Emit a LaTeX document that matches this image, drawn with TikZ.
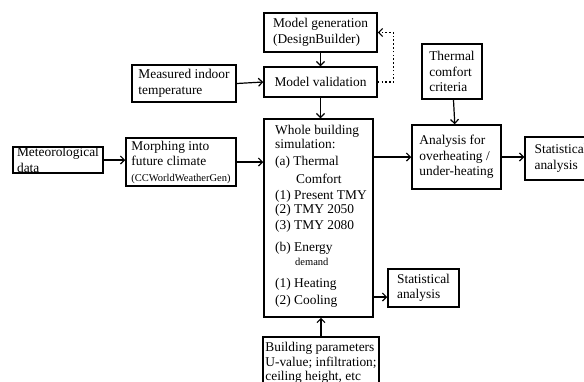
\documentclass[tikz,border=0pt]{standalone}
\usepackage{fontspec}
\setmainfont{Liberation Serif}
\usetikzlibrary{arrows.meta,positioning}
\newcommand{\smalltxt}[1]{{\fontsize{10.5}{12}\selectfont #1}}

\begin{document}
\begin{tikzpicture}[x=1pt,y=-1pt,
  >={Straight Barb[length=1.4mm,width=2.8mm]},
  box/.style={rectangle,draw,line width=1.5pt,align=left,inner sep=0pt,
              font=\fontsize{13.4}{15.5}\selectfont},
  link/.style={->,line width=1.2pt},
  font=\fontsize{13.4}{15}\selectfont]
\useasboundingbox (0,0) rectangle (584,381);

% model set-up
\node[box,minimum width=113pt,minimum height=39pt] (gen) at (320.5,32.5)
  {Model generation\\(DesignBuilder)};
\node[box,minimum width=113pt,minimum height=30pt] (val) at (320.5,82)
  {Model validation};
\node[box,minimum width=104pt,minimum height=37pt] (meas) at (184,83.5)
  {Measured indoor\\temperature};

% weather input
\node[box,minimum width=90pt,minimum height=26pt] (met) at (58,160)
  {Meteorological\\data};
\node[box,minimum width=110pt,minimum height=48pt] (morph) at (181,162)
  {Morphing into\\future climate\\\smalltxt{(CCWorldWeatherGen)}};

% simulation
\node[box,minimum width=109pt,minimum height=198pt] (sim) at (318.5,218) {};
\node[anchor=north west,align=left,inner sep=0pt] (simtext) at (275,125)
  {Whole building\\[-1pt]
   simulation:\\[2pt]
   (a) Thermal\\[3pt]
   \hspace*{21pt}Comfort\\[1pt]
   (1) Present TMY\\[-1pt]
   (2) TMY 2050\\[1pt]
   (3) TMY 2080\\[7pt]
   (b) Energy\\[-1pt]
   \hspace*{20pt}\smalltxt{demand}\\[7pt]
   (1) Heating\\[2pt]
   (2) Cooling};

% analysis
\node[box,minimum width=60pt,minimum height=55pt] (comfort) at (452,71.5)
  {Thermal\\comfort\\criteria};
\node[box,minimum width=89pt,minimum height=64pt] (anal) at (456.5,157)
  {Analysis for\\overheating /\\under-heating};
\node[box,minimum width=72pt,minimum height=43pt] (stat1) at (561,158.5)
  {Statistical\\analysis};
\node[box,minimum width=71pt,minimum height=38pt] (stat2) at (423.5,288)
  {Statistical\\analysis};
\node[box,minimum width=116pt,minimum height=64pt,anchor=north,
      font=\fontsize{13.4}{14.5}\selectfont] (bp) at (321,336)
  {Building parameters\\U-value; infiltration;\\ceiling height, etc\\~};

\draw[link] (gen) -- (val);
\draw[link] (meas.east) -- (val.west);
\draw[link] (val.south) -- (val.south |- sim.north);
\draw[link] (met.east) -- (met.east -| morph.west);
\draw[link] (morph.east) -- (morph.east -| sim.west);
\draw[link] (anal.west -| sim.east) -- (anal.west);
\draw[link] (comfort) -- (anal);
\draw[link] (anal.east) -- (anal.east -| stat1.west);
\draw[link] ([yshift=-9pt]stat2.west -| sim.east) -- ([yshift=-9pt]stat2.west);
\draw[link] (bp.north) -- (bp.north |- sim.south);
\draw[link,dash pattern=on 1.6pt off 2.2pt] (val.east) -- ++(16,0) |- (gen.east);
\end{tikzpicture}
\end{document}
